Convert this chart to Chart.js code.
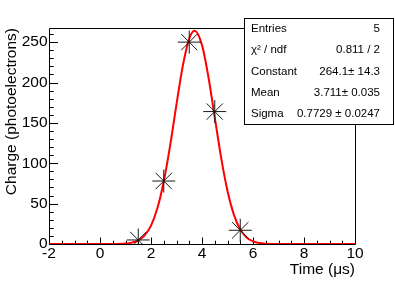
<!DOCTYPE html>
<html><head><meta charset="utf-8">
<script src="https://cdn.jsdelivr.net/npm/chart.js@4/dist/chart.umd.min.js"></script>
<style>html,body{margin:0;padding:0;background:#fff;}#wrap{width:395px;height:283px;position:relative;}</style>
</head><body><div id="wrap"><canvas id="c" width="395" height="283"></canvas></div>
<script>
// Measured points (time in µs, charge in photoelectrons)
const pointTimes = [1.5, 2.5, 3.5, 4.5, 5.5];
const pointCharges = [5, 78, 250, 164, 17];
// Fitted gaussian curve
const fitTimes = [-2, 0, 0.5, 1.0, 1.25, 1.5, 1.75, 2.0, 2.25, 2.5, 2.75, 3.0, 3.25, 3.5, 3.711, 4.0, 4.25, 4.5, 4.75, 5.0, 5.25, 5.5, 5.75, 6.0, 6.25, 6.5, 7.0, 10];
const fitCharges = [0, 0, 0.05, 0.6, 1.7, 4.4, 10.6, 22.8, 44.2, 77.4, 121.9, 173.0, 221.1, 254.4, 264.1, 246.3, 207.1, 156.9, 107.0, 65.7, 36.4, 18.1, 8.1, 3.3, 1.2, 0.4, 0.05, 0];
// Axis ticks
const xTickValues = [-2, 0, 2, 4, 6, 8, 10];
const yTickValues = [0, 50, 100, 150, 200, 250];
// Statistics box
const statsLabels = ['Entries', 'χ² / ndf', 'Constant', 'Mean', 'Sigma'];
const statsValues = ['5', '0.811 / 2', '264.1± 14.3', '3.711± 0.035', '0.7729 ± 0.0247'];

const FONT = '"Liberation Sans", Arial, Helvetica, sans-serif';

const framePlugin = {
  id: 'frame',
  beforeDatasetsDraw(chart) {
    const {ctx, chartArea: a, scales: {x, y}} = chart;
    ctx.save();
    ctx.strokeStyle = '#000';
    ctx.lineWidth = 1;
    ctx.beginPath();
    ctx.rect(Math.round(a.left) + 0.5, Math.round(a.top) + 0.5, Math.round(a.right - a.left), Math.round(a.bottom - a.top));
    ctx.stroke();
    ctx.beginPath();
    const xStep = xTickValues[1] - xTickValues[0];
    for (let v = x.min; v <= x.max + 1e-9; v += xStep / 4) {
      const px = Math.round(x.getPixelForValue(v)) + 0.5;
      const major = Math.abs(v / xStep - Math.round(v / xStep)) < 1e-6;
      const len = major ? 6.5 : 3.3;
      ctx.moveTo(px, a.bottom);
      ctx.lineTo(px, a.bottom - len);
    }
    const yStep = yTickValues[1] - yTickValues[0];
    for (let v = y.min; v <= y.max + 1e-9; v += yStep / 5) {
      const py = Math.round(y.getPixelForValue(v)) + 0.5;
      const major = Math.abs(v / yStep - Math.round(v / yStep)) < 1e-6;
      const len = major ? 9 : 4.6;
      ctx.moveTo(a.left, py);
      ctx.lineTo(a.left + len, py);
    }
    ctx.stroke();
    ctx.restore();
  },
  afterDraw(chart) {
    const {ctx} = chart;
    ctx.save();
    const bx = 244, by = 18, bw = 149, bh = 106;
    ctx.fillStyle = '#fff';
    ctx.fillRect(bx, by, bw, bh);
    ctx.strokeStyle = '#000';
    ctx.lineWidth = 1;
    ctx.strokeRect(bx + 0.5, by + 0.5, bw, bh);
    ctx.fillStyle = '#000';
    ctx.font = '11.5px ' + FONT;
    ctx.textBaseline = 'middle';
    const rowH = bh / statsLabels.length;
    statsLabels.forEach((lab, i) => {
      const cy = by + rowH * (i + 0.5) + 0.5;
      ctx.textAlign = 'left';
      ctx.fillText(lab, bx + 7, cy);
      ctx.textAlign = 'right';
      ctx.fillText(statsValues[i], bx + bw - 13, cy);
    });
    ctx.restore();
  }
};

new Chart(document.getElementById('c'), {
  type: 'scatter',
  data: {
    datasets: [
      {
        label: 'fit',
        data: fitTimes.map((t, i) => ({x: t, y: fitCharges[i]})),
        showLine: true,
        borderColor: '#ff0000',
        borderWidth: 2,
        pointRadius: 0,
        pointHoverRadius: 0,
        cubicInterpolationMode: 'monotone',
        fill: false,
        order: 2
      },
      {
        label: 'data',
        data: pointTimes.map((t, i) => ({x: t, y: pointCharges[i]})),
        showLine: false,
        pointStyle: 'star',
        pointRadius: 11.5,
        pointHoverRadius: 11.5,
        borderColor: '#1a1a1a',
        backgroundColor: 'rgba(0,0,0,0)',
        borderWidth: 1,
        order: 1
      }
    ]
  },
  options: {
    responsive: false,
    animation: false,
    devicePixelRatio: 1,
    layout: {padding: {top: 28, right: 40, left: 0, bottom: 0}},
    plugins: {legend: {display: false}, tooltip: {enabled: false}},
    events: [],
    scales: {
      x: {
        type: 'linear', position: 'bottom', min: -2, max: 10,
        afterFit: s => { s.height = 39; },
        afterBuildTicks: s => { s.ticks = xTickValues.map(v => ({value: v})); },
        grid: {display: false, drawTicks: false},
        border: {display: false},
        ticks: {font: {family: FONT, size: 15.5}, color: '#000', padding: 0, maxRotation: 0, autoSkip: false},
        title: {display: true, text: 'Time (μs)', align: 'end', color: '#000', font: {family: FONT, size: 15.5}, padding: {top: 0, bottom: 4}}
      },
      y: {
        type: 'linear', position: 'left', min: 0, max: 267.5,
        afterFit: s => { s.width = 49; },
        afterBuildTicks: s => { s.ticks = yTickValues.map(v => ({value: v})); },
        grid: {display: false, drawTicks: false},
        border: {display: false},
        ticks: {font: {family: FONT, size: 15.5}, color: '#000', padding: 1.5, autoSkip: false},
        title: {display: true, text: 'Charge (photoelectrons)', align: 'end', color: '#000', font: {family: FONT, size: 15.5}, padding: {top: 2, bottom: 0}}
      }
    }
  },
  plugins: [framePlugin]
});
</script>
</body></html>
